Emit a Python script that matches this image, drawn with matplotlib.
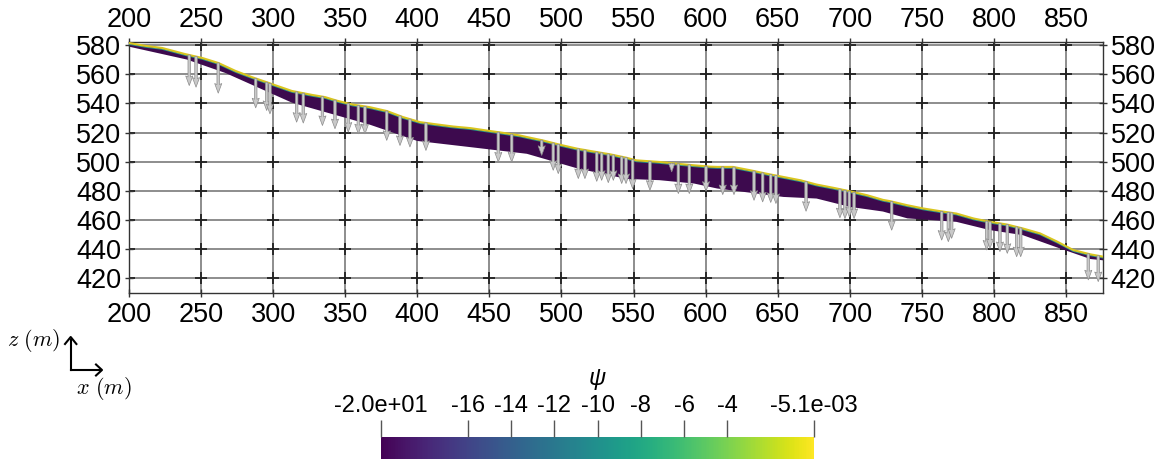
import matplotlib
matplotlib.use("Agg")
import matplotlib.pyplot as plt
import numpy as np


# ground surface of the hillslope (x, z in m)
surf_x = [200, 211, 223, 239, 251, 262, 274, 285, 299, 313,
          327, 336, 344, 355, 367, 379, 390, 402, 414, 425,
          437, 448, 460, 471, 476, 487, 499, 511, 522, 534,
          545, 552, 568, 580, 592, 603, 608, 619, 631, 642,
          654, 666, 677, 689, 700, 712, 723, 728, 740, 751,
          763, 774, 786, 797, 809, 820, 832, 844, 855, 867, 876]
surf_z = [581.4, 579.5, 578.0, 573.8, 571.1, 567.7, 562.2, 558.1, 553.3, 548.5,
          545.8, 544.3, 541.9, 539.2, 537.4, 534.7, 530.6, 527.1, 525.5, 524.1,
          523.0, 521.4, 519.7, 518.0, 516.9, 514.6, 511.6, 508.9, 507.0, 505.0,
          502.7, 500.9, 499.8, 498.6, 497.5, 496.6, 496.4, 496.4, 494.1, 491.8,
          489.5, 487.2, 484.3, 482.0, 479.7, 477.0, 473.8, 472.9, 470.1, 467.9,
          466.0, 464.4, 461.0, 458.8, 456.9, 454.2, 450.8, 445.1, 439.4, 436.4, 434.8]

# base of the soil layer
base_x = [200, 240, 267, 313, 334, 367, 400, 440, 476, 511, 545, 568, 592,
          608, 654, 677, 700, 723, 740, 774, 797, 820, 844, 867, 876]
base_z = [578.9, 570.1, 560.8, 540.5, 534.6, 525.4, 514.2, 509.6, 505.4, 495.4,
          488.2, 487.3, 485.0, 481.6, 475.8, 474.7, 469.0, 465.8, 461.1, 458.7,
          453.1, 449.6, 441.1, 433.2, 432.3]

# flux arrows: x position and elevation of the arrow tip
arrow_x = [241.8, 246.5, 261.9, 287.9, 295.5, 297.8, 316.3, 320.9, 334.2, 342.9,
           352.1, 359.1, 363.7, 378.8, 388.0, 394.9, 406.0, 456.2, 465.5, 486.3,
           494.3, 497.8, 511.7, 516.3, 524.5, 527.9, 532.5, 536.0, 541.8, 544.8,
           549.4, 561.4, 576.5, 581.1, 588.7, 600.3, 611.9, 619.7, 633.6, 639.6,
           645.2, 648.8, 669.7, 693.2, 696.7, 699.7, 703.0, 729.1, 763.8, 768.4,
           770.7, 795.0, 797.3, 804.2, 809.3, 815.8, 818.6, 865.5, 872.4]
arrow_tip = [552.2, 551.1, 547.0, 536.9, 535.1, 532.8, 527.1, 526.5, 524.8, 522.6,
             520.3, 519.1, 519.1, 514.6, 511.1, 510.1, 507.7, 499.8, 499.8, 504.3,
             494.1, 491.8, 488.4, 488.4, 486.5, 487.2, 485.6, 487.2, 485.0, 485.0,
             481.5, 480.4, 493.0, 478.1, 478.1, 479.7, 477.4, 477.4, 473.5, 472.4,
             472.0, 471.3, 466.0, 461.5, 461.0, 462.2, 461.0, 453.0, 446.2, 445.1,
             447.4, 439.4, 440.5, 438.3, 437.1, 434.8, 434.8, 418.9, 417.7]

x_ticks = list(range(200, 851, 50))
z_ticks = list(range(420, 581, 20))

cbar_ticks = [-20, -16, -14, -12, -10, -8, -6, -4, -0.0051]
cbar_labels = ["-2.0e+01", "-16", "-14", "-12", "-10", "-8", "-6", "-4", "-5.1e-03"]


plt.rcParams["font.family"] = ["Liberation Sans", "DejaVu Sans"]
plt.rcParams["mathtext.fontset"] = "cm"

W, H = 1167, 462
fig = plt.figure(figsize=(W / 100, H / 100), dpi=100)
ax = fig.add_axes([129 / W, 1 - 292.7 / H, 974 / W, 251 / H])

cmap = plt.get_cmap("viridis")

# soil layer
ax.fill(np.r_[surf_x, base_x[::-1]], np.r_[surf_z, base_z[::-1]],
        color="#3d0a4e", lw=0, zorder=2)
ax.plot(surf_x, np.array(surf_z) - 0.9, color="#21918c", lw=0.8, zorder=3)
ax.plot(surf_x, surf_z, color="#d9c620", lw=1.5, zorder=3)

# arrows
tail = np.interp(arrow_x, surf_x, surf_z)
ax.quiver(arrow_x, tail, np.zeros(len(arrow_x)), np.array(arrow_tip) - tail,
          angles="xy", scale_units="xy", scale=1, color="#c9c9c9",
          edgecolor="#8c8c8c", linewidth=0.5, width=0.0026,
          headwidth=2.8, headlength=3.8, headaxislength=3.4, zorder=4)

# grid with crosses at intersections
for xv in x_ticks:
    ax.axvline(xv, color="#333333", lw=1.1, alpha=0.7, zorder=1)
for zv in z_ticks:
    ax.axhline(zv, color="#333333", lw=1.1, alpha=0.7, zorder=1)
gx, gz = np.meshgrid(x_ticks, z_ticks)
ax.plot(gx.ravel(), gz.ravel(), "+", color="#222222", ms=9, mew=1.3, zorder=1)

ax.set_xlim(200, 875.7)
ax.set_ylim(410.1, 582.3)
ax.set_xticks(x_ticks)
ax.set_yticks(z_ticks)
ax.tick_params(direction="inout", length=6, width=1, color="#333333",
               labelsize=19.5, top=True, right=True,
               labeltop=True, labelright=True, pad=2.5)
ax.tick_params(axis="x", pad=3.5)
for s in ax.spines.values():
    s.set_color("#333333")
    s.set_linewidth(1)

# orientation indicator
fig.add_artist(plt.Line2D([70.7 / W, 70.7 / W], [1 - 370 / H, 1 - 340 / H],
                          color="black", lw=1.5))
fig.add_artist(plt.Line2D([70.7 / W, 100 / W], [1 - 370 / H, 1 - 370 / H],
                          color="black", lw=1.5))
fig.add_artist(plt.Line2D([65 / W, 70.7 / W, 76.4 / W],
                          [1 - 344 / H, 1 - 337 / H, 1 - 344 / H],
                          color="black", lw=1.5))
fig.add_artist(plt.Line2D([96 / W, 102 / W, 96 / W],
                          [1 - 364.5 / H, 1 - 370 / H, 1 - 375.5 / H],
                          color="black", lw=1.5))
fig.text(34 / W, 1 - 340 / H, r"$z\ (m)$", fontsize=16, ha="center", va="center")
fig.text(104 / W, 1 - 389 / H, r"$x\ (m)$", fontsize=16, ha="center", va="center")

# colorbar
cax = fig.add_axes([381 / W, 1 - 459 / H, 433 / W, 22.5 / H])
sm = plt.cm.ScalarMappable(cmap=cmap, norm=plt.Normalize(-20, -0.0051))
cb = fig.colorbar(sm, cax=cax, orientation="horizontal", ticks=cbar_ticks)
cb.outline.set_visible(False)
cax.xaxis.set_ticks_position("top")
cax.set_xticklabels(cbar_labels)
cax.tick_params(direction="out", length=12, width=1, color="#555555",
                labelsize=17, pad=2)
fig.text(597 / W, 1 - 378 / H, "ψ", fontsize=17, style="italic",
         ha="center", va="center")

fig.savefig("out.png", dpi=100)
